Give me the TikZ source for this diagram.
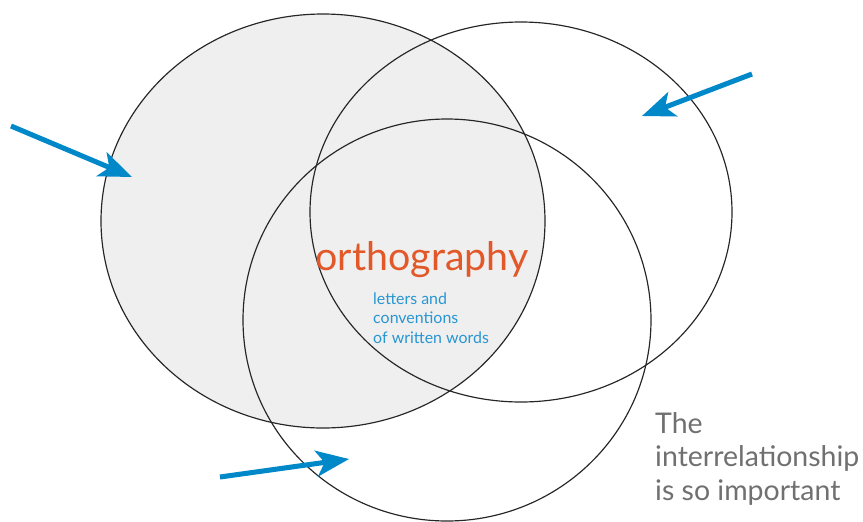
\documentclass[tikz,border=0pt]{standalone}
\usepackage{fontspec}
\setmainfont{Lato}
\usetikzlibrary{arrows.meta}

\definecolor{orthored}{RGB}{226,88,40}
\definecolor{noteblue}{RGB}{40,150,210}
\definecolor{arrowblue}{RGB}{0,136,200}
\definecolor{lightfill}{RGB}{239,239,239}
\definecolor{asidegray}{RGB}{112,112,112}

\tikzset{
    rim/.style={draw=black!85, line width=1pt},
    pointer/.style={arrowblue, line width=4.3pt, -{Stealth[length=28pt,width=22pt,inset=7pt]}},
}

\begin{document}
\begin{tikzpicture}[x=0.03cm,y=-0.03cm]
        \useasboundingbox (0,0) rectangle (863,521);

        \fill[lightfill] (323,221) ellipse (222 and 207);
        \draw[rim] (323,221) ellipse (222 and 207);
        \draw[rim] (521,212) ellipse (211 and 190);
        \draw[rim] (447,320) ellipse (204 and 201);

        \coordinate (tailA) at (11,126);
        \coordinate (tipA) at (132,177);
        \coordinate (tailB) at (752,74);
        \coordinate (tipB) at (642,116);
        \coordinate (tailC) at (220,477);
        \coordinate (tipC) at (349,459);

        \draw[pointer] (tailA) -- (tipA);
        \draw[pointer] (tailB) -- (tipB);
        \draw[pointer] (tailC) -- (tipC);

        \node[anchor=base, text=orthored, font=\fontsize{33.6}{40}\selectfont, inner sep=0pt] (ortho) at (422,270) {orthography};
        % base of a multi-line node is its last line
        \node[anchor=base west, text=noteblue, align=left, inner sep=0pt,
              font=\fontsize{13.6}{16.5}\selectfont] (letters) at (373,343)
              {letters and\\conventions\\of written words};
        \node[anchor=base west, text=asidegray, align=left, inner sep=0pt,
              font=\fontsize{24.3}{28.2}\selectfont] (aside) at (655,500)
              {The\\interrelationship\\is so important};
    \end{tikzpicture}
\end{document}
